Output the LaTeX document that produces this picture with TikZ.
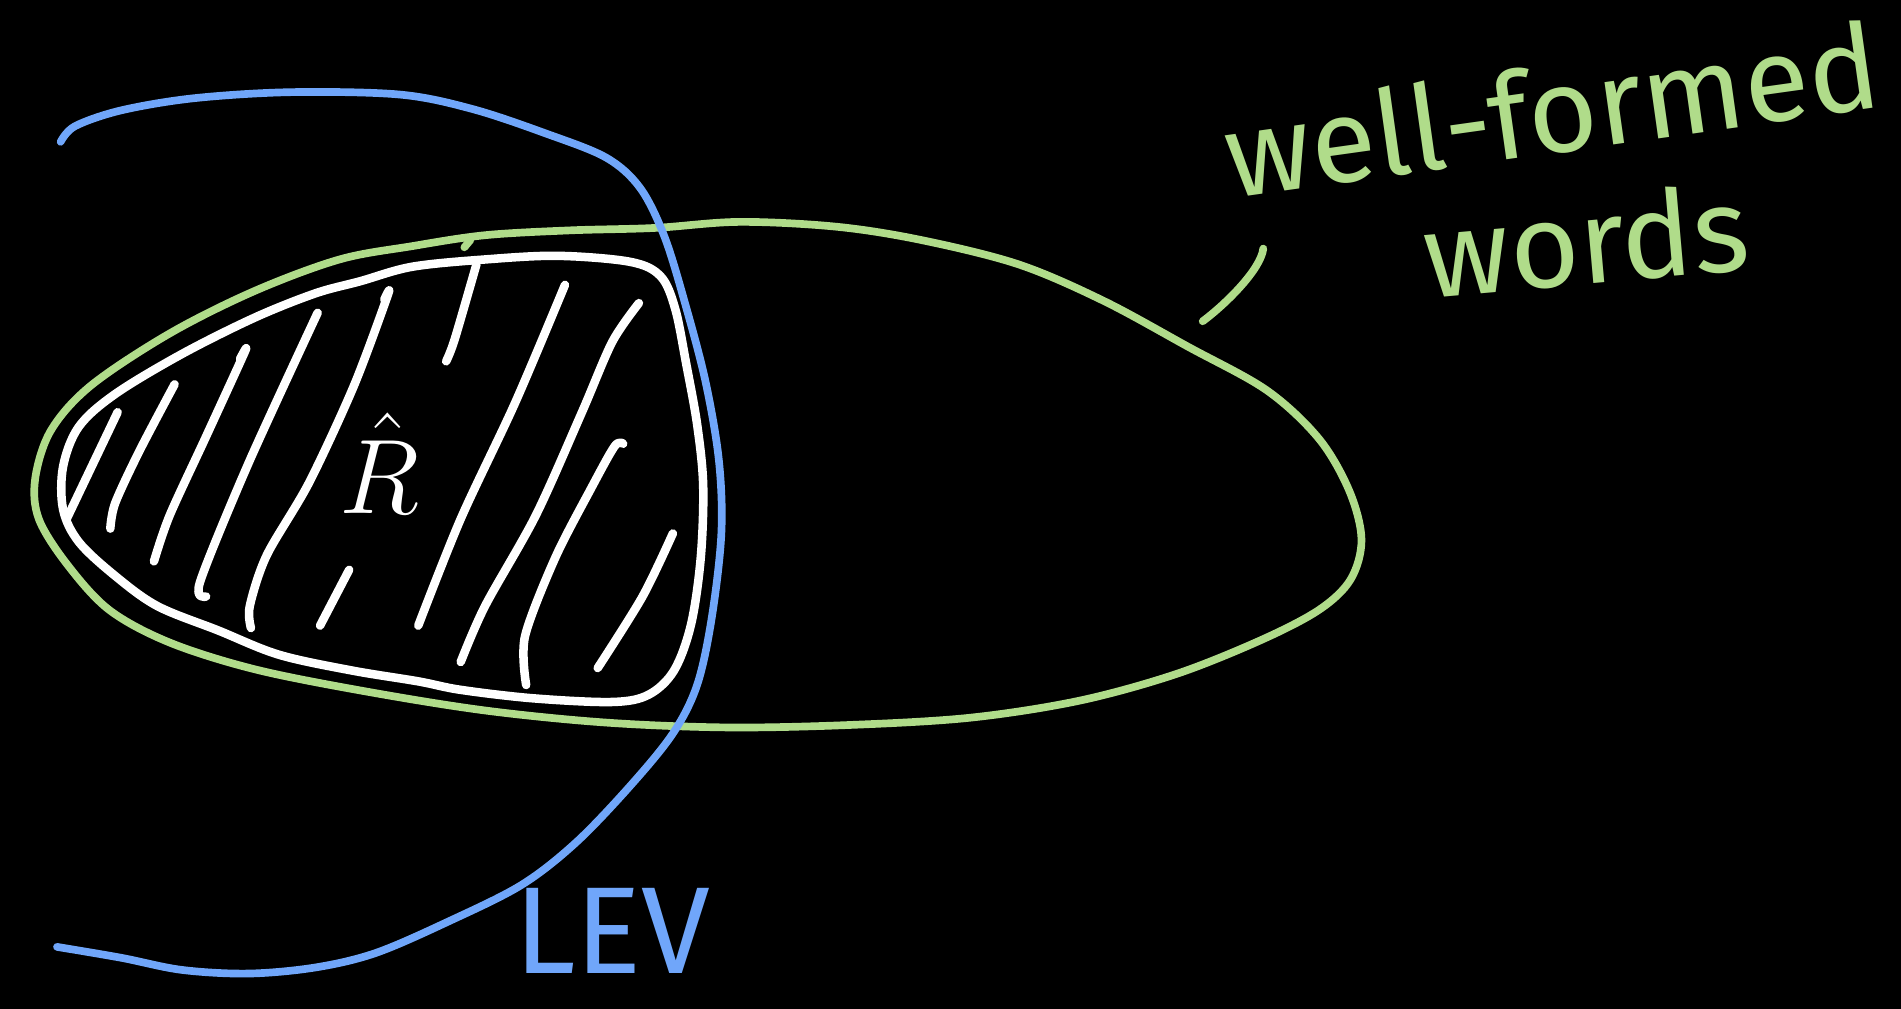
\documentclass[tikz,border=0pt]{standalone}
\usepackage{fontspec}
\setmainfont{Fira Sans}
\usepackage{tikz}
\definecolor{wfgreen}{RGB}{176,220,138}
\definecolor{levblue}{RGB}{112,166,250}
\tikzset{
  pen/.style={line width=1.8pt, line cap=round, line join=round},
  wfline/.style={pen, color=wfgreen},
  levline/.style={pen, color=levblue},
  hatch/.style={pen, color=white, line width=2pt},
  hand/.style={inner sep=0pt, font=\fontsize{28}{32}\selectfont}
}

\begin{document}
\begin{tikzpicture}[x=0.01cm, y=-0.01cm]
    % Board
    \fill[black] (0,0) rectangle (1568,832);
    \useasboundingbox (0,0) rectangle (1568,832);
    % Well-formed words
    \draw[wfline] plot[smooth cycle, tension=0.55] coordinates {
      (340,203) (400,194) (470,190) (540,188) (610,183) (690,187) (760,198)
      (840,218) (910,248) (980,286) (1045,322) (1088,362) (1113,405) (1123,445)
      (1114,478) (1088,503) (1040,528) (970,556) (890,578) (800,592) (700,598)
      (600,600) (500,596) (400,586) (300,570) (210,552) (140,530) (90,503)
      (55,465) (32,428) (29,395) (42,355) (75,318) (140,275) (210,240) (280,214)};
    \draw[wfline] (383,204) -- (388,198);
    % LEV
    \draw[levline] plot[smooth, tension=0.55] coordinates {
      (50,117) (62,104) (100,91) (160,81) (240,76) (330,78) (390,90) (450,110)
      (500,130) (528,155) (548,195) (565,250) (582,315) (593,380) (595,440)
      (587,510) (575,565) (555,605) (520,648) (475,695) (430,730) (370,760)
      (310,786) (260,798) (205,803) (150,800) (100,790) (47,781)};
    % R hat region
    \draw[hatch] plot[smooth cycle, tension=0.55] coordinates {
      (297,232) (340,220) (400,214) (460,211) (520,216) (545,228) (557,255)
      (566,300) (575,350) (580,400) (578,460) (570,515) (556,553) (535,573)
      (505,579) (440,576) (380,569) (345,562) (290,553) (230,540) (180,520)
      (130,500) (95,475) (65,447) (52,420) (52,385) (65,352) (95,325)
      (150,292) (210,262) (260,242)};
    % Hatching
    \draw[hatch] (97,340) -- (55,428);
    \draw[hatch] plot[smooth] coordinates {(144,317) (115,372) (95,415) (91,436)};
    \draw[hatch] plot[smooth] coordinates {(198,296) (202,290) (170,360) (140,425) (127,463)};
    \draw[hatch] plot[smooth] coordinates {(262,258) (205,382) (165,480) (170,492)};
    \draw[hatch] plot[smooth] coordinates {(317,247) (320,243) (292,318) (255,398) (220,458) (206,500) (207,518)};
    \draw[hatch] plot[smooth] coordinates {(393,218) (375,280) (368,298)};
    \draw[hatch] plot[smooth] coordinates {(466,235) (425,332) (380,428) (345,516)};
    \draw[hatch] plot[smooth] coordinates {(527,250) (505,282) (480,340) (442,425) (400,500) (380,546)};
    \draw[hatch] plot[smooth] coordinates {(514,366) (507,368) (488,402) (458,460) (433,525) (434,565)};
    \draw[hatch] plot[smooth] coordinates {(555,440) (530,492) (493,551)};
    \draw[hatch] (288,470) -- (264,516);
    % Labels
    \node[hand, text=wfgreen, rotate=8] (wf) at (1280,90) {well-formed};
    \node[hand, text=wfgreen, rotate=5] (words) at (1308,198) {words};
    \node[hand, text=levblue, font=\fontsize{29}{33}\selectfont] (lev) at (505,768) {LEV};
    \node[inner sep=0pt, text=white, font=\fontsize{28}{32}\selectfont] (rhat) at (313,382) {$\hat{R}$};
    % Pointer
    \coordinate (ptrfrom) at (1042,205);
    \coordinate (ptrto) at (992,265);
    \draw[wfline] (ptrfrom) .. controls (1040,222) and (1012,250) .. (ptrto);
\end{tikzpicture}
\end{document}
